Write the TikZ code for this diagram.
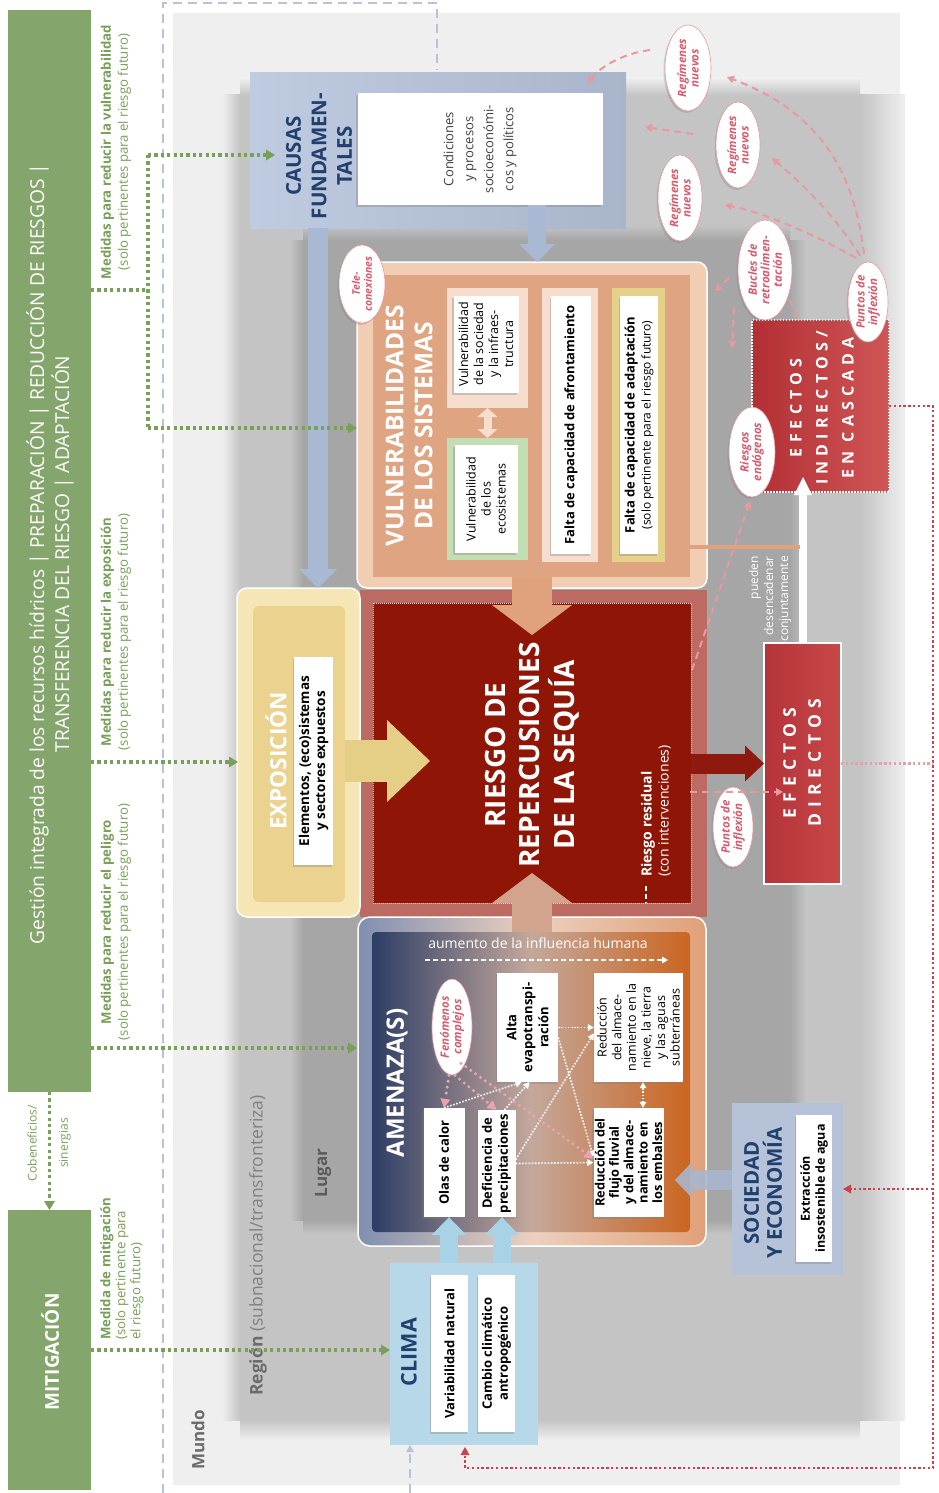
\documentclass[tikz,border=0pt]{standalone}
\usepackage{fontspec}
\setmainfont{Open Sans}
\usetikzlibrary{arrows.meta,shapes.geometric,shadows,calc}
\definecolor{worldbg}{HTML}{EFEFEF}
\definecolor{regionc}{HTML}{C4C4C4}
\definecolor{lugarc}{HTML}{A6A6A6}
\definecolor{grbar}{HTML}{84A56B}
\definecolor{grtext}{HTML}{78A058}
\definecolor{dashblue}{HTML}{B9C3D8}
\definecolor{navy}{HTML}{22406E}
\definecolor{causasL}{HTML}{BFCBE1}
\definecolor{causasR}{HTML}{A8B5CB}
\definecolor{causasArr}{HTML}{A9B9D3}
\definecolor{vulnoutc}{HTML}{F0CDB3}
\definecolor{vulninc}{HTML}{DFA582}
\definecolor{lpeach}{HTML}{F7DDCD}
\definecolor{ecogreen}{HTML}{C2DEB2}
\definecolor{adaptyel}{HTML}{E6D18A}
\definecolor{peacharr}{HTML}{E0A27C}
\definecolor{riesoutc}{HTML}{BC6B62}
\definecolor{riesinc}{HTML}{8F1606}
\definecolor{expoutc}{HTML}{F6E6B6}
\definecolor{expinc}{HTML}{EBD38F}
\definecolor{exparr}{HTML}{E5CE85}
\definecolor{amOutL}{HTML}{7F8FB0}
\definecolor{amOutM}{HTML}{ECD0BE}
\definecolor{amOutR}{HTML}{E0A078}
\definecolor{amInL}{HTML}{2D3D65}
\definecolor{amInM}{HTML}{C4A89C}
\definecolor{amInR}{HTML}{CB6520}
\definecolor{amArr}{HTML}{D3A48D}
\definecolor{climac}{HTML}{B6D8E9}
\definecolor{climaArr}{HTML}{A8D3E7}
\definecolor{socc}{HTML}{B6C2D8}
\definecolor{socArr}{HTML}{A9B6CD}
\definecolor{efL}{HTML}{B5333A}
\definecolor{efR}{HTML}{C84848}
\definecolor{efIL}{HTML}{B22F34}
\definecolor{efIR}{HTML}{D05656}
\definecolor{darkarr}{HTML}{8E1A0F}
\definecolor{reddot}{HTML}{C8414B}
\definecolor{lreddot}{HTML}{E8A0A8}
\definecolor{pinkdash}{HTML}{EA98A0}
\definecolor{pinktext}{HTML}{D85C6E}
\definecolor{pinkdot}{HTML}{EBA2B2}
\definecolor{greytext}{HTML}{6B6B6B}
\tikzset{
  rtext/.style={rotate=90, inner sep=0pt, align=center},
  bx/.style={inner sep=0pt, outer sep=0pt, anchor=north west},
  wbox/.style={rotate=90, fill=white, inner sep=1pt, align=center,
     font=\bfseries\fontsize{13}{16}\selectfont,
     drop shadow={shadow xshift=-1.5pt, shadow yshift=-2pt, opacity=0.35}},
  wboxr/.style={wbox, font=\fontsize{13}{16}\selectfont},
  pell/.style={ellipse, rotate=90, draw=pinkdash, fill=white, line width=0.6pt, inner sep=0pt,
     text=pinktext, align=center, font=\bfseries\itshape\fontsize{11.5}{12.5}\selectfont,
     drop shadow={shadow xshift=-1.5pt, shadow yshift=-2pt, opacity=0.3}},
  gdot/.style={grtext, line width=3.2pt, dash pattern=on 3.2pt off 3.2pt},
  gtip/.style={-{Triangle[width=11pt,length=9pt,line width=0pt]}},
  pdash/.style={pinkdash, line width=2pt, dash pattern=on 7pt off 5pt, -{Triangle[width=8pt,length=7pt,line width=0pt]}},
  wd/.style={white, line width=1.6pt, dash pattern=on 1.6pt off 1.6pt},
  wtip/.style={-{Triangle[width=7pt,length=6pt,line width=0pt]}},
  wtips/.style={{Triangle[width=7pt,length=6pt,line width=0pt]}-{Triangle[width=7pt,length=6pt,line width=0pt]}},
  pdot/.style={pinkdot, line width=3.4pt, dash pattern=on 0pt off 6pt, line cap=round, -{Triangle[width=10pt,length=9pt,line width=0pt]}},
  rdot/.style={reddot, line width=2.4pt, dash pattern=on 2.4pt off 2.4pt},
  rtip/.style={-{Triangle[width=9pt,length=8pt,line width=0pt]}},
  bdash/.style={dashblue, line width=1.5pt, dash pattern=on 9pt off 6pt},
  medtxt/.style={rtext, text=grtext, font=\fontsize{13.2}{17}\selectfont},
}
\begin{document}
\begin{tikzpicture}[x=1pt,y=-1pt]
\useasboundingbox (0,0) rectangle (939,1493);
\fill[white] (0,0) rectangle (939,1493);
% ---------- backgrounds
\node[bx, fill=worldbg, minimum width=727pt, minimum height=1472pt] (world) at (173,13) {};
\node[bx, fill=regionc, minimum width=620pt, minimum height=1325pt] (region) at (240,95) {};
\shade[left color=worldbg, right color=regionc] (222,95) rectangle (240,1420);
\shade[left color=regionc, right color=worldbg] (860,95) rectangle (905,1420);
\shade[top color=worldbg, bottom color=regionc] (240,78) rectangle (860,95);
\shade[top color=regionc, bottom color=worldbg] (240,1420) rectangle (860,1440);
\node[bx, fill=lugarc, minimum width=487pt, minimum height=980pt] (lugar) at (303,240) {};
\shade[left color=regionc, right color=lugarc] (290,240) rectangle (303,1220);
\shade[left color=lugarc, right color=regionc] (790,240) rectangle (806,1220);
\shade[top color=regionc, bottom color=lugarc] (303,225) rectangle (790,240);
\shade[top color=lugarc, bottom color=regionc] (303,1220) rectangle (790,1234);
% dashed world frame
\coordinate (d1) at (163,1493);
\coordinate (d2) at (163,3);
\coordinate (d3) at (437,3);
\coordinate (d4) at (437,70);
\draw[bdash] (d1) -- (d2) -- (d3) -- (d4);
% scale labels
\node[rtext, text=greytext, font=\bfseries\fontsize{17}{19}\selectfont] (mundotxt) at (198,1440) {Mundo};
\node[rtext, anchor=west, text=greytext, font=\fontsize{17.5}{19}\selectfont] (regiontxt) at (258,1396) {\textbf{Región} \textcolor{gray}{(subnacional/transfronteriza)}};
\node[rtext, text=greytext!85!black, font=\bfseries\fontsize{17}{19}\selectfont] (lugartxt) at (323,1173) {Lugar};
% ---------- left green bars
\node[bx, fill=grbar, minimum width=83pt, minimum height=1082pt] (gbar) at (8,10) {};
\node[rtext, text=white, font=\fontsize{19.2}{25}\selectfont] (gbartxt) at (50,554) {Gestión integrada de los recursos hídricos | PREPARACIÓN | REDUCCIÓN DE RIESGOS |\\TRANSFERENCIA DEL RIESGO | ADAPTACIÓN};
\node[bx, fill=grbar, minimum width=83pt, minimum height=280pt] (mitig) at (8,1210) {};
\node[rtext, text=white, font=\bfseries\fontsize{19}{21}\selectfont] (mitigtxt) at (50,1352) {MITIGACIÓN};
\draw[gdot, gtip] (gbar.south) -- (mitig.north);
\node[rtext, text=grtext, font=\fontsize{12}{13}\selectfont] (cobtxt) at (32,1143) {Cobeneficios/};
\node[rtext, text=grtext, font=\fontsize{12}{13}\selectfont] (sintxt) at (65,1143) {sinergias};
% medidas texts
\node[medtxt] (mvul) at (116,152) {\textbf{Medidas para reducir la vulnerabilidad}\\(solo pertinentes para el riesgo futuro)};
\node[medtxt] (mexp) at (116,632) {\textbf{Medidas para reducir la exposición}\\(solo pertinentes para el riesgo futuro)};
\node[medtxt] (mpel) at (116,922) {\textbf{Medidas para reducir el peligro}\\(solo pertinentes para el riesgo futuro)};
\node[medtxt, anchor=west, align=left, font=\fontsize{13.2}{15}\selectfont] (mmit) at (122,1340) {\textbf{Medida de mitigación}\\(solo pertinente para\\el riesgo futuro)};
% ---------- CAUSAS
\node[bx, left color=causasL, right color=causasR, minimum width=376pt, minimum height=155pt] (causas) at (250,73) {};
\node[rtext, text=navy, font=\bfseries\fontsize{20.5}{25.5}\selectfont] (causastxt) at (319,156) {CAUSAS\\FUNDAMEN-\\TALES};
\node[wboxr, font=\fontsize{13}{20}\selectfont, text=black!75, minimum width=112pt, minimum height=245pt] (causasw) at (480,149) {Condiciones\\y procesos\\socioeconómi-\\cos y políticos};
% ---------- VULNERABILIDADES
\node[bx, fill=vulnoutc, draw=white, line width=1.5pt, rounded corners=10pt, minimum width=350pt, minimum height=326pt] (vulnout) at (357,262) {};
\node[bx, fill=vulninc, minimum width=317pt, minimum height=302pt] (vulnin) at (373,275) {};
\node[rtext, text=white, font=\bfseries\fontsize{24.5}{29}\selectfont] (vulntxt) at (409,426) {VULNERABILIDADES\\DE LOS SISTEMAS};
\node[bx, fill=lpeach, minimum width=81pt, minimum height=120pt] (socfr) at (447,288) {};
\node[wboxr, font=\fontsize{12.5}{15}\selectfont, minimum width=97pt, minimum height=65pt] (socw) at (486,344) {Vulnerabilidad\\de la sociedad\\y la infraes-\\tructura};
\node[bx, fill=ecogreen, minimum width=81pt, minimum height=122pt] (ecofr) at (447,438) {};
\node[wboxr, font=\fontsize{12.5}{15}\selectfont, minimum width=108pt, minimum height=63pt] (ecow) at (486,499) {Vulnerabilidad\\de los\\ecosistemas};
\draw[lpeach, line width=8pt, {Triangle[width=20pt,length=9pt,line width=0pt]}-{Triangle[width=20pt,length=9pt,line width=0pt]}] (socfr.south) -- (ecofr.north);
\node[bx, fill=lpeach, minimum width=56pt, minimum height=274pt] (afrfr) at (542,288) {};
\node[wbox, minimum width=258pt, minimum height=40pt] (afrw) at (571,425) {Falta de capacidad de afrontamiento};
\node[bx, fill=adaptyel, minimum width=53pt, minimum height=274pt] (adafr) at (612,288) {};
\node[wbox, minimum width=258pt, minimum height=38pt] (adaw) at (639,425) {Falta de capacidad de adaptación\\{\mdseries\fontsize{12}{15}\selectfont (solo pertinente para el riesgo futuro)}};
% ---------- RIESGO
\node[bx, fill=riesoutc, minimum width=347pt, minimum height=327pt] (riesout) at (360,590) {};
\node[bx, fill=riesinc, draw=white!85!riesinc, line width=0.6pt, dash pattern=on 1pt off 1pt, minimum width=318pt, minimum height=300pt] (riesin) at (373,603) {};
\node[rtext, text=white, font=\bfseries\fontsize{28}{34.5}\selectfont] (riestxt) at (532,755) {RIESGO DE\\REPERCUSIONES\\DE LA SEQUÍA};
\node[rtext, anchor=west, align=left, text=white, font=\fontsize{14}{17}\selectfont] (resid) at (656,877) {\textbf{Riesgo residual}\\(con intervenciones)};
\coordinate (rd1) at (646,886);
\coordinate (rd2) at (646,903);
\draw[white, line width=1.6pt, dash pattern=on 5pt off 3pt] (rd1) -- (rd2);
% ---------- EXPOSICION
\node[bx, fill=expoutc, draw=white, line width=1.5pt, rounded corners=10pt, minimum width=123pt, minimum height=329pt] (expout) at (237,588) {};
\node[bx, fill=expinc, rounded corners=6pt, minimum width=92pt, minimum height=296pt] (expin) at (253,606) {};
\node[rtext, text=white, font=\bfseries\fontsize{22.5}{26}\selectfont] (exptxt) at (276,761) {EXPOSICIÓN};
\node[wbox, font=\bfseries\fontsize{13.5}{16}\selectfont, minimum width=208pt, minimum height=39pt] (expw) at (313.5,761) {Elementos, (eco)sistemas\\y sectores expuestos};
% ---------- AMENAZA
\node[bx, left color=amOutL, right color=amOutR, middle color=amOutM, draw=white, line width=1.5pt, rounded corners=12pt, minimum width=348pt, minimum height=329pt] (amout) at (358,917) {};
\node[bx, left color=amInL, right color=amInR, middle color=amInM, rounded corners=4pt, minimum width=318pt, minimum height=300pt] (amin) at (372,932) {};
\node[rtext, text=white, font=\bfseries\fontsize{24}{28}\selectfont] (amtxt) at (397,1083) {AMENAZA(S)};
\node[inner sep=0pt, text=white, font=\fontsize{14}{16}\selectfont] (aumtxt) at (538,943) {aumento de la influencia humana};
\coordinate (au1) at (425,960);
\coordinate (au2) at (668,960);
\draw[white, line width=1.5pt, dash pattern=on 5pt off 3pt, wtip] (au1) -- (au2);
\node[wbox, minimum width=109pt, minimum height=41pt] (olas) at (444,1162.5) {Olas de calor};
\node[wbox, minimum width=107pt, minimum height=38pt] (defic) at (496.5,1163.5) {Deficiencia de\\precipitaciones};
\node[wbox, minimum width=109pt, minimum height=61pt] (alta) at (527.5,1027.5) {Alta\\evapotranspi-\\ración};
\node[wboxr, font=\fontsize{12.5}{14.6}\selectfont, minimum width=109pt, minimum height=89pt] (snow) at (638.5,1027.5) {Reducción\\del almace-\\namiento en la\\nieve, la tierra\\y las aguas\\subterráneas};
\node[wbox, font=\bfseries\fontsize{12.8}{14.4}\selectfont, minimum width=109pt, minimum height=70pt] (flujo) at (628.5,1162.5) {Reducción del\\flujo fluvial\\y del almace-\\namiento en\\los embalses};
\node[pell, minimum width=96pt, minimum height=40pt] (fen) at (452,1027) {Fenómenos\\complejos};
% white dotted links
\draw[wd, wtip] (alta.south) -- (snow.north);
\draw[wd, wtip] ($(alta.south)+(0,10)$) -- ($(flujo.north)+(0,-6)$);
\draw[wd, wtip] ($(defic.south)+(0,-4)$) -- ($(snow.north)+(0,6)$);
\draw[wd, wtip] (defic.south) -- (flujo.north);
\draw[wd, wtip] (olas.east) -- ($(alta.west)+(-6,0)$);
\draw[wd, wtip] ($(defic.east)+(8,0)$) -- ($(alta.west)+(2,0)$);
\coordinate (sfx) at (643,0);
\draw[wd, wtips] (snow.west -| sfx) -- (flujo.east -| sfx);
% pink dotted links
\draw[pdot] ($(fen.west)+(-3,0)$) -- (olas.east);
\draw[pdot] ($(fen.west)+(3,0)$) -- (defic.east);
\draw[pdot] ($(fen.west)+(9,-12)$) -- ($(flujo.north)+(0,-4)$);
% ---------- SOCIEDAD
\node[bx, fill=socc, minimum width=111pt, minimum height=172pt] (soc) at (732,1103) {};
\node[rtext, text=navy, font=\bfseries\fontsize{20.5}{23}\selectfont] (soctxt) at (763,1193) {SOCIEDAD\\Y ECONOMÍA};
\node[wbox, font=\bfseries\fontsize{12.5}{15}\selectfont, minimum width=147pt, minimum height=36pt] (socw) at (814,1188.5) {Extracción\\insostenible de agua};
% ---------- CLIMA
\node[bx, fill=climac, minimum width=148pt, minimum height=182pt] (clima) at (390,1263) {};
\node[rtext, text=navy, font=\bfseries\fontsize{21.5}{24}\selectfont] (climatxt) at (409,1352) {CLIMA};
\node[wbox, minimum width=157pt, minimum height=37pt] (varw) at (449.5,1353.5) {Variabilidad natural};
\node[wbox, minimum width=157pt, minimum height=37pt] (camw) at (496.5,1353.5) {Cambio climático\\antropogénico};
% ---------- EFECTOS
\node[bx, left color=efL, right color=efR, draw=white, line width=1.5pt, minimum width=77pt, minimum height=241pt] (directos) at (764,643) {};
\node[rtext, text=white, font=\bfseries\fontsize{17.5}{25}\selectfont\addfontfeatures{LetterSpace=35}] (dirtxt) at (802,763) {EFECTOS\\DIRECTOS};
\node[bx, left color=efIL, right color=efIR, draw=white, line width=1.5pt, dash pattern=on 1.5pt off 1.5pt, minimum width=137pt, minimum height=172pt] (indirect) at (752,320) {};
\node[rtext, text=white, font=\bfseries\fontsize{16}{26}\selectfont\addfontfeatures{LetterSpace=32}] (indtxt) at (822,408) {EFECTOS\\INDIRECTOS/\\EN CASCADA};
% ---------- big arrows
\coordinate (ca1) at (537,205);
\draw[causasArr, line width=18pt, -{Triangle[width=36pt,length=18pt,line width=0pt]}] (ca1) -- (ca1 |- vulnout.north);
\coordinate (cb1) at (318,0);
\draw[causasArr, line width=20pt, -{Triangle[width=38pt,length=19pt,line width=0pt]}] (causas.south -| cb1) -- (expout.north -| cb1);
\coordinate (vtip) at (532,635);
\draw[peacharr, line width=40pt, -{Triangle[width=80pt,length=30pt,line width=0pt]}] (vulnin.south -| vtip) -- (vtip);
\coordinate (atip) at (532,873);
\draw[amArr, line width=40pt, -{Triangle[width=80pt,length=30pt,line width=0pt]}] (amin.north -| atip) -- (atip);
\coordinate (etip) at (430,761);
\draw[exparr, line width=42pt, -{Triangle[width=82pt,length=43pt,line width=0pt]}] (expin.east |- etip) -- (etip);
\coordinate (cxa) at (449,0);
\coordinate (cxb) at (502,0);
\draw[climaArr, line width=18pt, -{Triangle[width=35pt,length=18pt,line width=0pt]}] (clima.north -| cxa) -- (olas.west -| cxa);
\draw[climaArr, line width=18pt, -{Triangle[width=35pt,length=18pt,line width=0pt]}] (clima.north -| cxb) -- (defic.west -| cxb);
\coordinate (sa) at (675,1180);
\draw[socArr, opacity=0.9, line width=20pt, -{Triangle[width=36pt,length=17pt,line width=0pt]}] (soc.west |- sa) -- (sa);
\draw[darkarr, line width=20pt, -{Triangle[width=36pt,length=19pt,line width=0pt]}] (riesin.east |- directos.west) -- (directos.west);
\coordinate (wa) at (803,477);
\draw[white, line width=8pt, -{Triangle[width=18pt,length=18pt,line width=0pt]}] (directos.north -| wa) -- (wa);
\coordinate (pl) at (800,547);
\draw[peacharr, line width=4pt] (vulnin.east |- pl) -- (pl);
\node[rtext, anchor=east, align=right, text=white, font=\fontsize{12}{15}\selectfont] (puedtxt) at (770,556) {pueden\\desencadenar\\conjuntamente};
% ---------- green dotted measures
\coordinate (gj) at (148,290);
\coordinate (gt) at (148,155);
\coordinate (gb) at (148,428);
\coordinate (gcaus) at (275,155);
\draw[gdot] (gbar.east |- gj) -- (gj);
\draw[gdot] (gt) -- (gb);
\draw[gdot, gtip] (gt) -- (gcaus);
\draw[gdot, gtip] (gb) -- (vulnout.west |- gb);
\coordinate (gexp) at (238,762);
\draw[gdot, gtip] (gbar.east |- gexp) -- (gexp);
\coordinate (gpel) at (357,1048);
\draw[gdot, gtip] (gbar.east |- gpel) -- (gpel);
\draw[gdot, gtip] (mitig.east) -- (mitig.east -| clima.west);
% ---------- red dotted feedback
\coordinate (rv1) at (933,406);
\coordinate (rv2) at (933,1468);
\coordinate (cl2) at (465,1447);
\draw[rdot, rtip] (indirect.east) -- (rv1) -- (rv2) -| (cl2);
\draw[rdot, rtip] (rv1 |- soc.east) -- (soc.east);
\draw[rdot, lreddot] (directos.east) -- (directos.east -| rv1);
\coordinate (bd) at (410,1493);
\draw[bdash, -{Triangle[width=8pt,length=7pt,line width=0pt]}] (bd) -- (clima.south -| bd);
% ---------- pink ellipses
\node[pell, minimum width=68pt, minimum height=46pt, font=\bfseries\itshape\fontsize{10.5}{12}\selectfont] (tele) at (362,284) {Tele-\\conexiones};
\node[pell, minimum width=86pt, minimum height=46pt] (regA) at (688,68) {Regímenes\\nuevos};
\node[pell, minimum width=86pt, minimum height=44pt] (regB) at (738,145) {Regímenes\\nuevos};
\node[pell, minimum width=86pt, minimum height=44pt] (regC) at (680,198) {Regímenes\\nuevos};
\node[pell, minimum width=100pt, minimum height=54pt] (bucles) at (765,270) {Bucles de\\retroalimen-\\tación};
\node[pell, minimum width=80pt, minimum height=40pt] (ptop) at (868,302) {Puntos de\\inflexión};
\node[pell, minimum width=90pt, minimum height=46pt] (endog) at (752,452) {Riesgos\\endógenos};
\node[pell, minimum width=80pt, minimum height=40pt] (pbot) at (733,827) {Puntos de\\inflexión};
% ---------- pink dashed
\coordinate (tA) at (727,77);
\coordinate (tB) at (772,158);
\coordinate (tC) at (725,205);
\draw[pdash] ($(ptop.east)+(-4,-8)$) .. controls (852,150) and (800,105) .. (tA);
\draw[pdash] ($(ptop.east)+(-8,-6)$) .. controls (835,215) and (800,182) .. (tB);
\draw[pdash] ($(ptop.east)+(-12,-4)$) .. controls (820,238) and (770,214) .. (tC);
\coordinate (rA1) at (650,50);
\coordinate (rA2) at (587,83);
\draw[pdash] (rA1) .. controls (620,54) and (600,68) .. (rA2);
\coordinate (rB1) at (693,134);
\coordinate (rB2) at (645,127);
\draw[pdash] (rB1) -- (rB2);
\coordinate (bl1) at (729,278);
\coordinate (bl2) at (715,291);
\draw[pdash] (bl1) -- (bl2);
\coordinate (bl3) at (734,308);
\coordinate (bl4) at (732,348);
\draw[pdash] (bl3) -- (bl4);
\coordinate (bl5) at (790,300);
\coordinate (bl6) at (799,322);
\draw[pinkdash, line width=2pt, dash pattern=on 7pt off 5pt] (bl5) -- (bl6);
\coordinate (en1) at (692,670);
\draw[pdash] (en1) -- ($(endog.west)+(-2,4)$);
\coordinate (pb1) at (690,792);
\coordinate (pb2) at (783,792);
\draw[pdash] (pb1) -- (pb2);
\end{tikzpicture}
\end{document}
